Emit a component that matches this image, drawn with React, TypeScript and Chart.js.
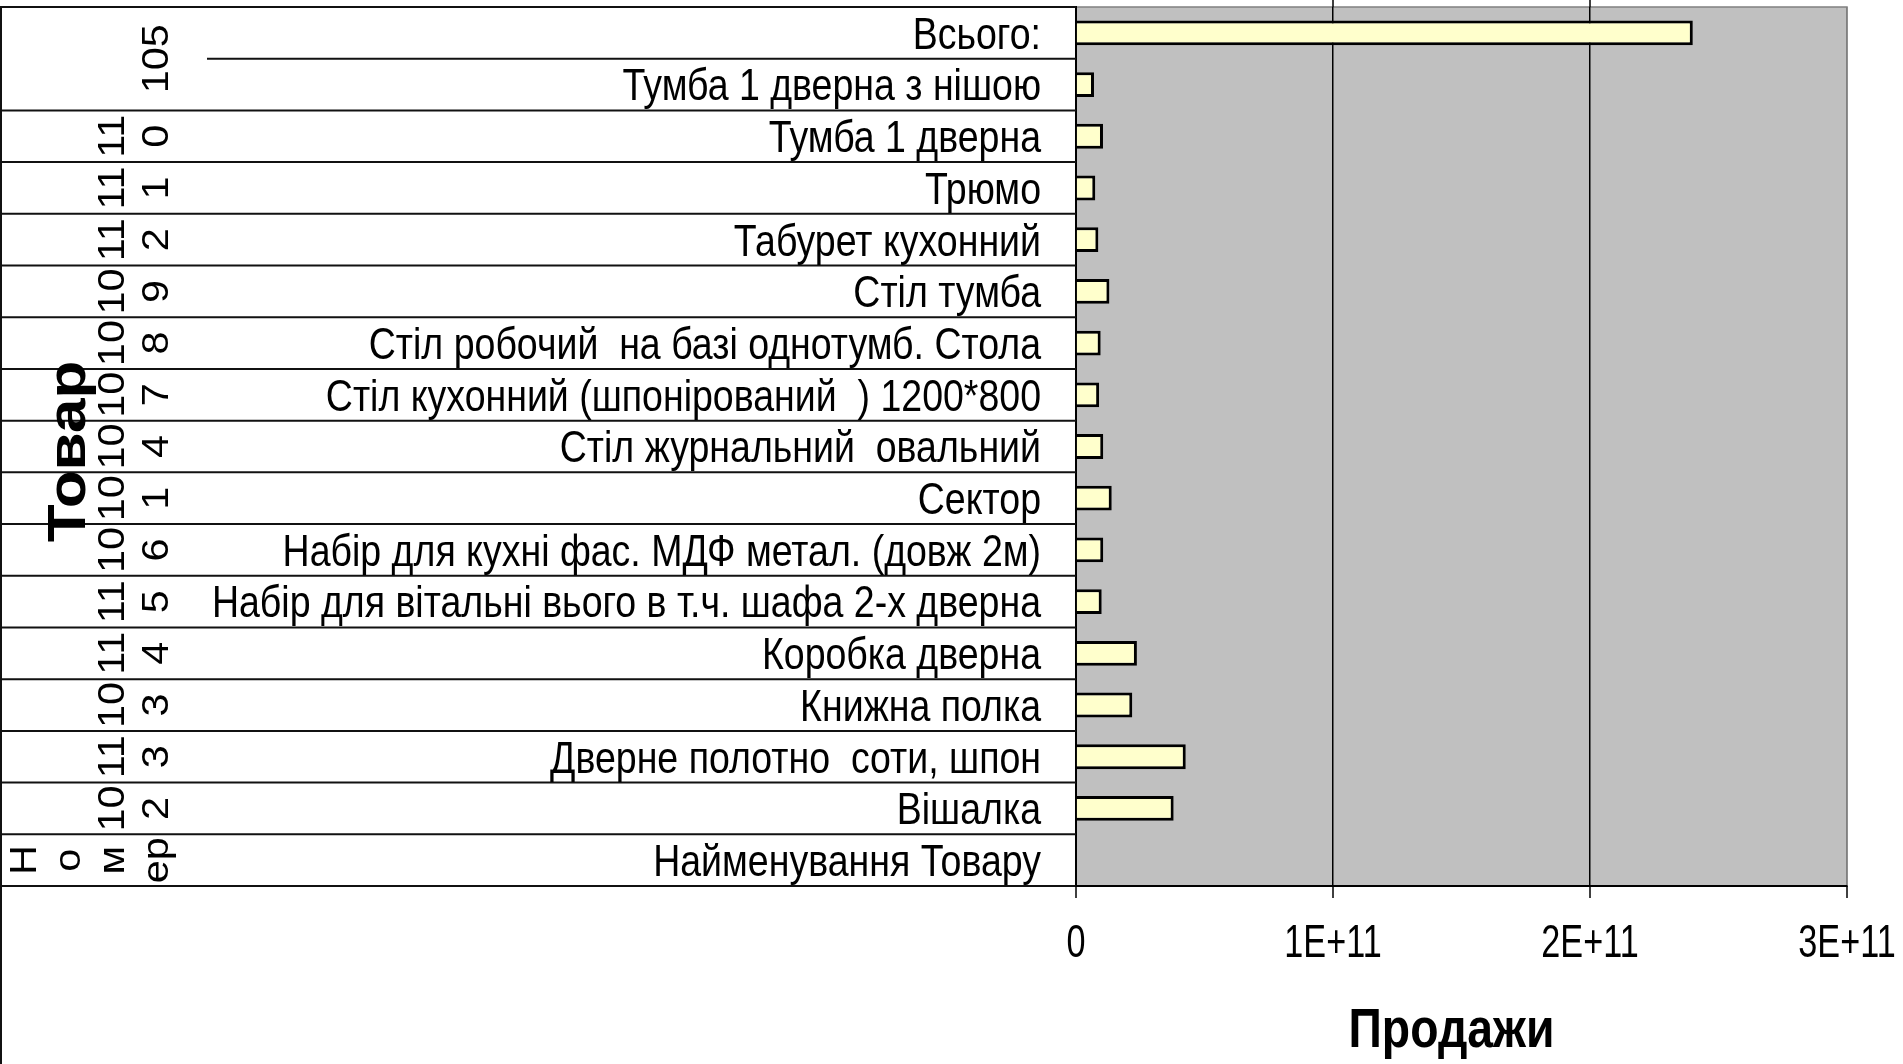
import { useEffect, useRef } from 'react';
import { Chart, registerables } from 'chart.js';

Chart.register(...registerables);

// ---- data ----
const productNames = [
  'Всього:',
  'Тумба 1 дверна з нішою',
  'Тумба 1 дверна',
  'Трюмо',
  'Табурет кухонний',
  'Стіл тумба',
  'Стіл робочий  на базі однотумб. Стола',
  'Стіл кухонний (шпонірований  ) 1200*800',
  'Стіл журнальний  овальний',
  'Сектор',
  'Набір для кухні фас. МДФ метал. (довж 2м)',
  'Набір для вітальні вього в т.ч. шафа 2-х дверна',
  'Коробка дверна',
  'Книжна полка',
  'Дверне полотно  соти, шпон',
  'Вішалка',
  'Найменування Товару',
];

const sales: (number | null)[] = [
  2.4e11, 0.07e11, 0.105e11, 0.075e11, 0.087e11, 0.13e11, 0.096e11, 0.09e11,
  0.106e11, 0.139e11, 0.106e11, 0.1e11, 0.237e11, 0.219e11, 0.427e11, 0.38e11, null,
];

// product numbers (outer category level), as wrapped in the cells
const productIdLines: string[][] = [
  ['105'], ['11', '0'], ['11', '1'], ['11', '2'], ['10', '9'], ['10', '8'], ['10', '7'],
  ['10', '4'], ['10', '1'], ['10', '6'], ['11', '5'], ['11', '4'], ['10', '3'], ['11', '3'],
  ['10', '2'], ['Н', 'о', 'м', 'ер'],
];
const productIdSpans = [2, 1, 1, 1, 1, 1, 1, 1, 1, 1, 1, 1, 1, 1, 1, 1];

const xTickValues = [0, 1e11, 2e11, 3e11];
const xTickLabels = ['0', '1E+11', '2E+11', '3E+11'];

const xTitle = 'Продажи';
const yTitle = 'Товар';

const FONT = '"Liberation Sans", Arial, sans-serif';

type TextOpts = {
  size: number;
  bold?: boolean;
  sx?: number;
  sy?: number;
  align?: CanvasTextAlign;
  rotate?: number;
};

function drawText(ctx: CanvasRenderingContext2D, text: string, x: number, y: number, o: TextOpts) {
  ctx.save();
  ctx.translate(x, y);
  if (o.rotate) ctx.rotate(o.rotate);
  ctx.scale(o.sx ?? 1, o.sy ?? 1);
  ctx.font = `${o.bold ? 'bold ' : ''}${o.size}px ${FONT}`;
  ctx.fillStyle = '#000';
  ctx.textAlign = o.align ?? 'center';
  ctx.textBaseline = 'alphabetic';
  ctx.fillText(text, 0, 0.358 * o.size);
  ctx.restore();
}

function line(ctx: CanvasRenderingContext2D, x1: number, y1: number, x2: number, y2: number, color: string, w: number) {
  ctx.beginPath();
  ctx.strokeStyle = color;
  ctx.lineWidth = w;
  ctx.moveTo(x1, y1);
  ctx.lineTo(x2, y2);
  ctx.stroke();
}

const tablePlugin = {
  id: 'excelTable',
  beforeDraw(chart: any) {
    const { ctx, chartArea: a } = chart;
    ctx.save();
    ctx.fillStyle = '#fff';
    ctx.fillRect(0, 0, chart.width, chart.height);
    ctx.fillStyle = '#C0C0C0';
    ctx.fillRect(a.left, a.top, a.right - a.left, a.bottom - a.top);
    ctx.strokeStyle = '#808080';
    ctx.lineWidth = 1.5;
    ctx.strokeRect(a.left, a.top, a.right - a.left, a.bottom - a.top);
    ctx.restore();
  },
  afterDraw(chart: any) {
    const { ctx, chartArea: a } = chart;
    const yScale = chart.scales.y;
    const xScale = chart.scales.x;
    const n = productNames.length;
    const rowH = (a.bottom - a.top) / n;
    const nameColLeft = 207;
    ctx.save();

    // table grid lines
    const groupStarts = new Set<number>();
    let r = 0;
    productIdSpans.forEach((s) => { groupStarts.add(r); r += s; });
    for (let i = 1; i < n; i++) {
      const y = a.top + i * rowH;
      line(ctx, groupStarts.has(i) ? 0 : nameColLeft, y, a.left, y, '#111', 2);
    }
    line(ctx, 0, a.top, a.left, a.top, '#111', 2);
    line(ctx, 0, a.bottom, a.left, a.bottom, '#111', 2);
    line(ctx, 1, a.top, 1, chart.height, '#111', 2);

    // tick marks
    xTickValues.forEach((v, i) => {
      const x = xScale.getPixelForValue(v);
      line(ctx, x, a.bottom, x, a.bottom + 12, '#000', 1.5);
      if (i > 0 && i < xTickValues.length - 1) line(ctx, x, 0, x, a.top, '#000', 1.5);
      drawText(ctx, xTickLabels[i], x, a.bottom + 54, { size: 36, sx: 0.95, sy: 1.3 });
    });

    // product number labels (rotated)
    r = 0;
    productIdLines.forEach((lines, g) => {
      const span = productIdSpans[g];
      const yc = (yScale.getPixelForValue(r) + yScale.getPixelForValue(r + span - 1)) / 2;
      lines.forEach((t, k) => {
        const x = 155 - (lines.length - 1 - k) * 44;
        drawText(ctx, t, x, yc, { size: 37, sx: 1.12, rotate: -Math.PI / 2 });
      });
      r += span;
    });

    // y title
    drawText(ctx, yTitle, 66, (a.top + a.bottom) / 2 + 5, { size: 53, bold: true, sx: 1.17, rotate: -Math.PI / 2 });

    // product name labels
    productNames.forEach((t, i) => {
      drawText(ctx, t, a.left - 35, yScale.getPixelForValue(i), { size: 37.5, sy: 1.18, align: 'right' });
    });

    // x title
    drawText(ctx, xTitle, (a.left + a.right) / 2 - 10, a.bottom + 141, { size: 45, bold: true, sx: 1.03, sy: 1.22 });

    ctx.restore();
  },
};

export default function App() {
  const ref = useRef<HTMLCanvasElement>(null);
  useEffect(() => {
    document.body.style.margin = '0';
    Chart.defaults.font.family = FONT;
    const chart = new Chart(ref.current!, {
      type: 'bar',
      data: {
        labels: productNames,
        datasets: [
          {
            label: 'Продажи',
            data: sales,
            backgroundColor: '#FFFFCC',
            borderColor: '#000',
            borderWidth: 3,
            barPercentage: 0.48,
            categoryPercentage: 1,
          },
        ],
      },
      options: {
        indexAxis: 'y',
        responsive: false,
        animation: false,
        devicePixelRatio: 1,
        layout: { padding: { left: 1076, top: 7, right: 56, bottom: 178 } },
        plugins: { legend: { display: false }, tooltip: { enabled: false } },
        scales: {
          x: {
            type: 'linear',
            min: 0,
            max: 3e11,
            ticks: { display: false, stepSize: 1e11 },
            grid: {
              drawTicks: false,
              lineWidth: 1.5,
              color: (c: any) => (c.tick && c.tick.value === 3e11 ? '#808080' : '#000'),
            },
            border: { display: true, color: '#000', width: 2 },
          },
          y: {
            type: 'category',
            ticks: { display: false },
            grid: { display: false, drawTicks: false },
            border: { display: true, color: '#000', width: 2 },
          },
        },
      },
      plugins: [tablePlugin],
    });
    return () => chart.destroy();
  }, []);
  return (
    <canvas
      ref={ref}
      width={1903}
      height={1064}
      style={{ display: 'block', width: 1903, height: 1064 }}
    />
  );
}
